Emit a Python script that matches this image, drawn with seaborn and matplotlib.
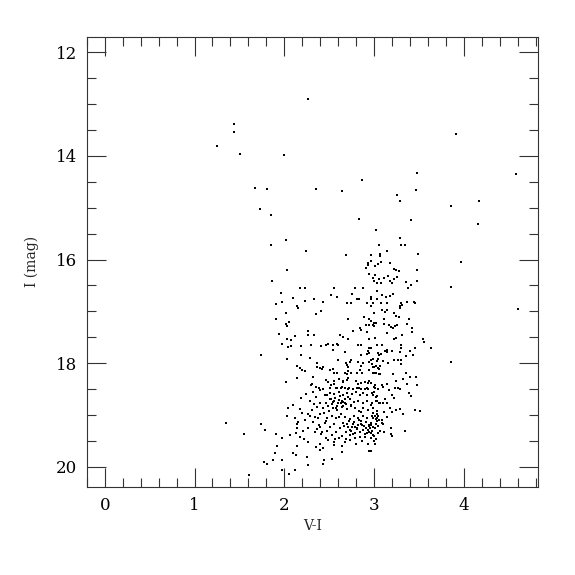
import numpy as np
import pandas as pd
import matplotlib
matplotlib.use("Agg")
import matplotlib.pyplot as plt
import seaborn as sns
from matplotlib.ticker import MultipleLocator

# bright, sparse stars
bright_vi = [1.25, 1.44, 1.44, 1.51, 2.26, 2.00, 3.91, 1.67, 1.81, 1.73, 1.85, 3.48, 2.87, 2.35,
             2.64, 3.47, 4.58, 3.26, 3.29, 4.17, 3.86, 2.83, 3.41, 4.16, 3.02, 3.29, 1.85, 2.02,
             3.06, 3.30, 3.35, 2.24, 2.69, 3.14, 2.97, 3.07, 3.07, 3.49, 3.97, 4.60, 3.86, 3.86,
             3.55, 3.56, 3.63, 1.86]
bright_i = [13.81, 13.39, 13.54, 13.97, 12.91, 13.99, 13.58, 14.62, 14.64, 15.03, 15.13, 14.32,
            14.47, 14.64, 14.68, 14.66, 14.35, 14.76, 14.86, 14.86, 14.97, 15.22, 15.24, 15.32,
            15.42, 15.59, 15.71, 15.63, 15.71, 15.72, 15.71, 15.84, 15.92, 15.84, 15.92, 15.90,
            15.94, 15.90, 16.05, 16.96, 16.52, 17.98, 17.54, 17.60, 17.71, 16.42]

# giant branch, I = 16 - 17.5
rgb_vi = [2.93, 2.93, 2.97, 3.01, 3.04, 3.08, 3.18, 3.22, 3.24, 3.28, 3.48, 2.03, 2.91, 2.95,
          3.01, 2.99, 3.06, 3.11, 3.16, 3.22, 3.26, 3.00, 3.03, 3.03, 1.96, 1.98, 2.17, 2.23,
          2.10, 2.23, 2.33, 2.43, 2.52, 2.55, 2.59, 2.75, 2.79, 2.88, 2.81, 2.83, 2.70, 2.74,
          2.92, 2.97, 2.97, 3.03, 2.97, 2.99, 2.02, 2.14, 2.15, 2.35, 2.41, 2.71, 2.89, 3.00,
          2.95, 3.08, 3.18, 3.20, 3.36, 3.41, 3.48, 3.38, 3.09, 3.13, 3.18, 3.21, 3.08, 3.14,
          3.30, 3.31, 3.29, 3.37, 3.45, 3.46, 3.09, 3.14, 3.29, 3.22, 3.24, 3.28, 3.39, 3.11,
          2.02, 2.03, 2.05, 2.27, 2.33, 2.27, 2.12, 2.03, 2.07, 2.77, 2.84, 2.85, 2.91, 2.95,
          2.92, 3.00, 3.00, 2.62, 2.65, 2.71, 2.94, 3.12, 2.97, 2.99, 3.02, 3.11, 3.17, 3.19,
          3.21, 3.23, 3.26, 3.37, 3.42, 3.14, 3.31, 3.42, 3.01, 3.22, 3.24, 1.91, 1.91, 1.94]
rgb_i = [16.07, 16.11, 16.03, 16.13, 16.09, 16.05, 16.07, 16.19, 16.21, 16.23, 16.21, 16.21,
         16.17, 16.28, 16.30, 16.36, 16.38, 16.36, 16.32, 16.38, 16.34, 16.42, 16.46, 16.61,
         16.65, 16.81, 16.55, 16.55, 16.75, 16.79, 16.77, 16.81, 16.69, 16.55, 16.73, 16.67,
         16.54, 16.55, 16.77, 16.77, 16.84, 16.84, 16.83, 16.73, 16.77, 16.77, 16.90, 16.84,
         17.04, 16.90, 16.94, 17.06, 17.00, 17.15, 17.10, 17.04, 17.15, 16.46, 16.42, 16.46,
         16.44, 16.50, 16.42, 16.55, 16.69, 16.73, 16.71, 16.67, 16.83, 16.83, 16.84, 16.88,
         16.90, 16.81, 16.81, 16.83, 16.98, 16.98, 16.94, 17.04, 17.08, 17.11, 17.15, 17.15,
         17.25, 17.29, 17.21, 17.37, 17.46, 17.46, 17.48, 17.54, 17.56, 17.37, 17.33, 17.35,
         17.27, 17.27, 17.40, 17.23, 17.29, 17.46, 17.50, 17.54, 17.54, 17.02, 17.19, 17.27,
         17.23, 17.25, 17.27, 17.31, 17.33, 17.29, 17.27, 17.25, 17.33, 17.42, 17.46, 17.40,
         17.52, 17.54, 17.52, 16.86, 17.15, 17.44]

# I = 17.5 - 18.5
mid_vi = [2.03, 2.07, 1.97, 2.04, 2.07, 2.19, 2.30, 2.41, 2.46, 2.49, 2.54, 2.59, 2.60, 2.82,
          2.85, 3.03, 2.54, 2.68, 2.93, 2.94, 2.92, 2.95, 3.04, 3.06, 2.85, 2.19, 2.03, 2.29,
          2.37, 2.60, 2.74, 2.73, 2.69, 2.70, 2.71, 2.82, 2.88, 2.85, 2.94, 2.98, 3.00, 3.03,
          3.02, 3.06, 3.06, 2.14, 2.17, 2.23, 2.20, 2.37, 2.40, 2.43, 2.42, 2.51, 2.54, 2.56,
          2.59, 2.68, 2.70, 2.71, 2.74, 2.81, 2.84, 2.87, 2.94, 3.00, 3.02, 2.32, 2.02, 2.14,
          2.46, 2.49, 2.56, 2.61, 2.65, 2.66, 2.70, 2.71, 2.80, 2.82, 2.85, 2.90, 2.93, 2.95,
          2.30, 2.31, 2.52, 2.55, 2.59, 2.63, 2.64, 2.72, 2.71, 2.83, 2.85, 2.92, 2.93, 3.00,
          2.39, 3.30, 3.09, 2.97, 3.08, 3.12, 3.14, 3.14, 3.20, 3.30, 3.29, 3.40, 3.46, 3.36,
          3.43, 2.99, 3.04, 3.10, 3.16, 3.22, 3.27, 3.30, 3.30, 2.97, 2.99, 3.04, 3.07, 2.99,
          3.07, 3.21, 3.36, 3.24, 3.32, 3.40, 3.47, 3.37, 3.48, 2.97, 3.01, 3.09, 3.14, 3.23,
          3.27, 3.29, 1.74, 2.35, 2.40, 2.43, 2.51, 2.58, 2.68, 2.77, 2.81, 2.90, 3.01, 3.04,
          3.10, 3.17]
mid_i = [17.54, 17.56, 17.62, 17.69, 17.67, 17.67, 17.65, 17.67, 17.64, 17.62, 17.64, 17.62,
         17.65, 17.65, 17.65, 17.64, 17.75, 17.79, 17.77, 17.71, 17.83, 17.81, 17.81, 17.85,
         17.85, 17.85, 17.91, 17.89, 18.00, 17.93, 17.94, 17.98, 18.00, 18.04, 18.08, 17.98,
         18.00, 18.06, 17.98, 18.02, 18.08, 17.96, 18.06, 18.12, 18.20, 18.06, 18.10, 18.16,
         18.14, 18.08, 18.10, 18.08, 18.12, 18.14, 18.12, 18.18, 18.18, 18.18, 18.20, 18.16,
         18.18, 18.18, 18.14, 18.18, 18.14, 18.18, 18.18, 18.27, 18.37, 18.29, 18.33, 18.37,
         18.35, 18.31, 18.37, 18.35, 18.33, 18.29, 18.35, 18.41, 18.39, 18.37, 18.39, 18.35,
         18.43, 18.41, 18.43, 18.41, 18.48, 18.47, 18.45, 18.47, 18.50, 18.47, 18.50, 18.47,
         18.50, 18.45, 18.48, 17.65, 17.65, 17.71, 17.83, 17.77, 17.75, 17.79, 17.77, 17.71,
         17.79, 17.77, 17.71, 17.87, 17.85, 17.91, 17.91, 17.96, 18.00, 17.93, 17.93, 17.93,
         18.02, 17.94, 18.08, 18.10, 18.06, 18.18, 18.20, 18.21, 18.18, 18.35, 18.31, 18.27,
         18.27, 18.41, 18.43, 18.39, 18.43, 18.43, 18.41, 18.47, 18.48, 18.50, 17.85, 18.45,
         18.52, 18.50, 18.47, 18.48, 18.48, 18.50, 18.48, 18.50, 18.47, 18.50, 18.45, 18.52]

# faint main clump, I > 18.5
faint_vi = [2.32, 2.24, 2.19, 2.29, 2.35, 2.45, 2.51, 2.56, 2.61, 2.65, 2.70, 2.75, 2.80, 2.84,
            2.88, 2.92, 2.98, 3.03, 2.51, 2.54, 2.60, 2.64, 2.68, 2.73, 2.78, 2.82, 2.88, 2.92,
            2.98, 3.02, 3.06, 2.40, 2.46, 2.10, 2.04, 2.03, 2.31, 2.36, 2.43, 2.49, 2.54, 2.59,
            2.64, 2.70, 2.74, 2.79, 2.83, 2.88, 2.93, 2.99, 3.03, 2.17, 2.20, 2.29, 2.34, 2.40,
            2.48, 2.53, 2.58, 2.63, 2.68, 2.73, 2.78, 2.82, 2.88, 2.92, 2.98, 3.03, 3.06, 2.12,
            2.15, 2.23, 2.32, 2.39, 2.45, 2.51, 2.56, 2.62, 2.66, 2.71, 2.77, 2.81, 2.87, 2.91,
            2.95, 3.01, 2.14, 2.14, 2.21, 2.26, 2.06, 2.13, 2.34, 2.41, 2.48, 2.53, 2.58, 2.64,
            2.69, 2.73, 2.79, 2.84, 2.90, 2.94, 3.00, 3.04, 1.97, 2.17, 2.27, 2.35, 2.40, 2.43,
            2.49, 2.55, 2.61, 2.64, 2.68, 2.73, 2.80, 2.87, 2.93, 3.00, 2.14, 2.10, 2.13, 2.40,
            2.64, 2.53, 2.44, 2.43, 2.26, 2.25, 2.95, 1.97, 1.98, 2.05, 2.12,
            3.39, 3.41, 3.00, 2.99, 3.02, 3.03, 3.20, 3.22, 3.07, 3.10, 3.12, 3.14, 2.97, 3.18,
            3.20, 3.24, 3.29, 3.11, 3.32, 3.46, 3.51, 2.99, 3.01, 3.03, 2.99, 3.02, 3.03, 3.09,
            3.14, 3.09, 3.10, 3.04, 2.97, 2.98, 3.19, 3.35, 3.07, 3.11, 2.97, 2.99, 3.19, 3.20,
            2.97, 3.02, 3.01, 2.97,
            1.35, 1.74, 1.78, 1.55, 1.91, 1.92, 1.90, 1.87, 1.77, 1.81, 1.61]
faint_i = [18.56, 18.60, 18.68, 18.72, 18.66, 18.62, 18.58, 18.60, 18.56, 18.62, 18.58, 18.60,
           18.56, 18.62, 18.58, 18.62, 18.58, 18.64, 18.70, 18.74, 18.76, 18.72, 18.76, 18.70,
           18.74, 18.72, 18.76, 18.72, 18.76, 18.72, 18.77, 18.76, 18.77, 18.81, 18.87, 19.01,
           18.91, 18.85, 18.87, 18.83, 18.87, 18.91, 18.85, 18.89, 18.83, 18.87, 18.93, 18.87,
           18.91, 18.87, 18.93, 18.89, 18.97, 19.01, 19.04, 18.99, 19.06, 19.02, 19.06, 18.99,
           19.04, 19.08, 19.02, 19.06, 19.01, 19.06, 19.02, 19.06, 19.10, 19.06, 19.14, 19.10,
           19.14, 19.20, 19.16, 19.24, 19.18, 19.26, 19.16, 19.24, 19.18, 19.26, 19.20, 19.26,
           19.22, 19.26, 19.18, 19.26, 19.30, 19.26, 19.39, 19.35, 19.33, 19.37, 19.31, 19.39,
           19.33, 19.41, 19.33, 19.39, 19.35, 19.43, 19.37, 19.33, 19.41, 19.35, 19.45, 19.43,
           19.53, 19.62, 19.55, 19.64, 19.49, 19.53, 19.45, 19.59, 19.53, 19.49, 19.55, 19.51,
           19.55, 19.51, 19.59, 19.74, 19.78, 19.68, 19.72, 19.84, 19.86, 19.95, 19.97, 19.82,
           19.70, 19.86, 20.07, 20.13, 20.07,
           18.58, 18.64, 18.56, 18.62, 18.66, 18.72, 18.62, 18.68, 18.76, 18.76, 18.70, 18.76,
           18.81, 18.87, 18.95, 18.91, 18.89, 18.95, 18.99, 18.91, 18.93, 18.97, 19.01, 18.99,
           19.06, 19.08, 19.12, 19.10, 19.04, 19.16, 19.18, 19.22, 19.20, 19.30, 19.26, 19.30,
           19.31, 19.33, 19.35, 19.39, 19.37, 19.41, 19.45, 19.47, 19.55, 19.70,
           19.16, 19.18, 19.28, 19.37, 19.37, 19.59, 19.74, 19.86, 19.90, 19.95, 20.15]

# densest knots of the clump
core_vi = [2.57, 2.61, 2.66, 2.53, 2.71, 2.59, 2.63, 2.68, 2.55, 2.74, 2.62, 2.58, 2.69, 2.52,
           2.65, 2.72, 2.78, 2.83, 2.86, 2.91, 2.95, 2.76, 2.81, 2.89, 2.93, 2.97, 2.70, 2.74,
           2.79, 2.84, 2.88, 2.99, 3.02, 2.67, 2.77, 2.85, 2.92, 2.96, 2.73, 2.82, 2.38, 2.44,
           2.47, 2.36, 2.42, 2.50, 2.33, 2.46, 2.57, 2.61, 2.86, 2.90, 3.05, 2.79, 2.69, 2.48,
           2.55, 2.40, 2.27, 2.22]
core_i = [18.68, 18.71, 18.74, 18.79, 18.66, 18.83, 18.77, 18.70, 18.73, 18.81, 18.64, 18.86,
          18.78, 18.69, 18.82, 19.11, 19.14, 19.09, 19.17, 19.13, 19.19, 19.23, 19.27, 19.21,
          19.29, 19.16, 19.18, 19.31, 19.24, 19.33, 19.28, 19.23, 19.18, 19.22, 19.37, 19.12,
          19.34, 19.26, 19.29, 19.20, 19.05, 18.97, 19.12, 19.27, 19.33, 18.93, 18.79, 19.44,
          19.47, 19.03, 18.95, 19.43, 19.01, 19.44, 19.47, 18.61, 19.57, 19.23, 18.99, 19.46]

df = pd.DataFrame({
    "V-I": bright_vi + rgb_vi + mid_vi + faint_vi + core_vi,
    "I": bright_i + rgb_i + mid_i + faint_i + core_i,
})

sns.set_style("ticks")
plt.rcParams["font.family"] = ["DejaVu Serif"]

fig = plt.figure(figsize=(5.75, 5.75), dpi=100)
ax = fig.add_axes([0.151, 0.153, 0.785, 0.783])

sns.scatterplot(data=df, x="V-I", y="I", ax=ax, color="black", marker="s",
                s=4, linewidth=0, legend=False)

ax.set_xlim(-0.2, 4.83)
ax.set_ylim(20.39, 11.7)

ax.xaxis.set_major_locator(MultipleLocator(1))
ax.xaxis.set_minor_locator(MultipleLocator(0.2))
ax.yaxis.set_major_locator(MultipleLocator(2))
ax.yaxis.set_minor_locator(MultipleLocator(0.5))
ax.tick_params(which="both", direction="in", top=True, right=True,
               width=0.8, colors="#333333", labelcolor="black", labelsize=12)
ax.tick_params(which="major", length=14, pad=7)
ax.tick_params(which="minor", length=6.5)
for sp in ax.spines.values():
    sp.set_linewidth(0.8)
    sp.set_color("#333333")

ax.set_xlabel("V-I", fontsize=10, labelpad=4)
ax.set_ylabel("I (mag)", fontsize=10, labelpad=12)

fig.savefig("out.png", dpi=100)
